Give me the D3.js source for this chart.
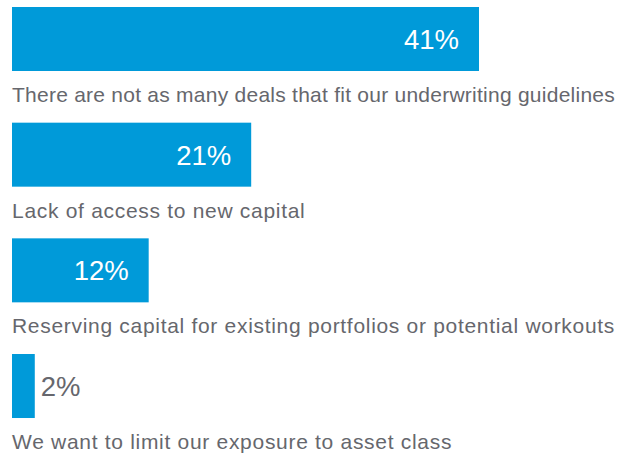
<!DOCTYPE html>
<html>
<head>
<meta charset="utf-8">
<script src="https://cdn.jsdelivr.net/npm/d3@7"></script>
<style>
  html, body { margin: 0; padding: 0; background: #ffffff; }
  svg { display: block; }
</style>
</head>
<body>
<div id="chart"></div>
<script>
// Reasons for reduced lending activity (share of respondents)
const categories = [
  "There are not as many deals that fit our underwriting guidelines",
  "Lack of access to new capital",
  "Reserving capital for existing portfolios or potential workouts",
  "We want to limit our exposure to asset class"
];
const values = [41, 21, 12, 2];
const valueLabels = ["41%", "21%", "12%", "2%"];

const width = 623, height = 455;
const barColor = "#009ad9";
const textColor = "#66676d";
const fontFamily = "'Liberation Sans', Arial, Helvetica, sans-serif";
const maxLabelWidth = 603;
const labelSpacing = 0.7;

const svg = d3.select("#chart").append("svg")
  .attr("width", width)
  .attr("height", height);

const x = d3.scaleLinear().domain([0, 41]).range([12, 479]);

const y = d3.scaleBand()
  .domain(categories)
  .range([7, 7 + 115.67 * categories.length])
  .paddingInner(0)
  .paddingOuter(0);

const barH = 64;

const rows = svg.selectAll("g.row")
  .data(categories.map((c, i) => ({ cat: c, value: values[i], label: valueLabels[i] })))
  .join("g")
  .attr("class", "row");

rows.append("rect")
  .attr("x", x(0))
  .attr("y", d => y(d.cat))
  .attr("width", d => x(d.value) - x(0))
  .attr("height", barH)
  .attr("fill", barColor);

// Value labels: inside the bar when it is wide enough, otherwise just after it
rows.append("text")
  .attr("x", d => d.value >= 5 ? x(d.value) - 20 : x(d.value) + 6)
  .attr("y", d => y(d.cat) + 42)
  .attr("text-anchor", d => d.value >= 5 ? "end" : "start")
  .attr("fill", d => d.value >= 5 ? "#ffffff" : textColor)
  .style("font-family", fontFamily)
  .style("font-size", "27.5px")
  .text(d => d.label);

// Category labels under each bar; tighten the tracking of any that would overflow
rows.append("text")
  .attr("x", 12)
  .attr("y", d => y(d.cat) + barH + 31)
  .attr("fill", textColor)
  .style("font-family", fontFamily)
  .style("font-size", "21px")
  .style("letter-spacing", "0px")
  .text(d => d.cat)
  .each(function (d) {
    const base = this.getComputedTextLength();
    const n = d.cat.length;
    const ls = Math.max(0, Math.min(labelSpacing, (maxLabelWidth - base) / n));
    d3.select(this).style("letter-spacing", ls + "px");
  });
</script>
</body>
</html>
